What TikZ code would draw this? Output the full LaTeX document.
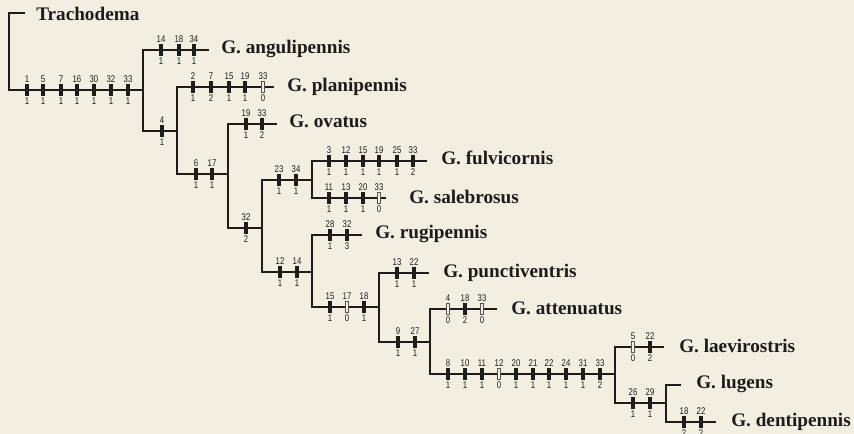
\documentclass[tikz,border=0pt]{standalone}
\usepackage{fontspec}
\setmainfont{Liberation Serif}
\newfontfamily\numfont[FakeStretch=0.8]{Liberation Sans}
\definecolor{bg}{RGB}{242,239,225}
\definecolor{ink}{RGB}{28,28,28}
\tikzset{
  br/.style={draw=ink, line width=1.1pt},
  fbar/.style={rectangle, fill=ink, inner sep=0pt, minimum width=2.3pt, minimum height=9pt},
  obar/.style={rectangle, draw=ink!75, fill=bg, line width=0.45pt, inner sep=0pt, minimum width=2.6pt, minimum height=8.6pt},
  num/.style={inner sep=0pt, text=ink, font=\numfont\fontsize{7.3}{7.3}\selectfont},
  taxon/.style={anchor=base west, inner sep=0pt, text=ink, font=\fontsize{14.4}{14.4}\selectfont\bfseries},
}
\newcommand\chF[4]{\node[fbar] at (#1,#2) {}; \node[num] at (#1,{#2-11}) {#3}; \node[num] at (#1,{#2+11}) {#4};}
\newcommand\chO[4]{\node[obar] at (#1,#2) {}; \node[num] at (#1,{#2-11}) {#3}; \node[num] at (#1,{#2+11}) {#4};}
\begin{document}
\begin{tikzpicture}[x=0.75pt,y=-0.75pt]
\fill[bg] (0,0) rectangle (854,434);
\useasboundingbox (0,0) rectangle (854,434);
% coordinates
\coordinate (tTra) at (25,13);
\coordinate (root) at (9,90);
\coordinate (n1) at (143,90);
\coordinate (lAng) at (209,50);
\coordinate (n2) at (177,131);
\coordinate (lPla) at (274,87);
\coordinate (n3) at (228,174);
\coordinate (lOva) at (277,124);
\coordinate (n4) at (262,228);
\coordinate (n5) at (312,180);
\coordinate (lFul) at (427,161);
\coordinate (lSal) at (386,198);
\coordinate (n6) at (312,272);
\coordinate (lRug) at (362,235);
\coordinate (n7) at (379,307);
\coordinate (lPun) at (429,273);
\coordinate (n8) at (430,342);
\coordinate (lAtt) at (497,309);
\coordinate (n9) at (615,374);
\coordinate (lLae) at (664,347);
\coordinate (n10) at (666,403);
\coordinate (lLug) at (681,385);
\coordinate (lDen) at (716,422);
% branches
\draw[br] (tTra) -| (root) -- (n1);
\draw[br] (lAng) -| (n1) |- (n2);
\draw[br] (lPla) -| (n2) |- (n3);
\draw[br] (lOva) -| (n3) |- (n4);
\draw[br] (n5) -| (n4) |- (n6);
\draw[br] (lFul) -| (n5) |- (lSal);
\draw[br] (lRug) -| (n6) |- (n7);
\draw[br] (lPun) -| (n7) |- (n8);
\draw[br] (lAtt) -| (n8) |- (n9);
\draw[br] (lLae) -| (n9) |- (n10);
\draw[br] (lLug) -| (n10) |- (lDen);
% taxa
\node[taxon] (tra) at (36,21) {Trachodema};
\node[taxon] (ang) at (221,54) {G. angulipennis};
\node[taxon] (pla) at (287,92) {G. planipennis};
\node[taxon] (ova) at (289,128) {G. ovatus};
\node[taxon] (ful) at (441,165) {G. fulvicornis};
\node[taxon] (sal) at (409,204) {G. salebrosus};
\node[taxon] (rug) at (375,239) {G. rugipennis};
\node[taxon] (pun) at (443,278) {G. punctiventris};
\node[taxon] (att) at (511,315) {G. attenuatus};
\node[taxon] (lae) at (679,353) {G. laevirostris};
\node[taxon] (lug) at (696,389) {G. lugens};
\node[taxon] (den) at (731,427) {G. dentipennis};
% characters
\chF{27}{90}{1}{1}\chF{43}{90}{5}{1}\chF{61}{90}{7}{1}\chF{77}{90}{16}{1}
\chF{94}{90}{30}{1}\chF{111}{90}{32}{1}\chF{128}{90}{33}{1}
\chF{161}{50}{14}{1}\chF{179}{50}{18}{1}\chF{194}{50}{34}{1}
\chF{162}{131}{4}{1}
\chF{193}{87}{2}{1}\chF{211}{87}{7}{2}\chF{229}{87}{15}{1}\chF{245}{87}{19}{1}\chO{263}{87}{33}{0}
\chF{196}{174}{6}{1}\chF{212}{174}{17}{1}
\chF{246}{124}{19}{1}\chF{262}{124}{33}{2}
\chF{246}{228}{32}{2}
\chF{279}{180}{23}{1}\chF{296}{180}{34}{1}
\chF{329}{161}{3}{1}\chF{346}{161}{12}{1}\chF{363}{161}{15}{1}\chF{379}{161}{19}{1}\chF{397}{161}{25}{1}\chF{413}{161}{33}{2}
\chF{329}{198}{11}{1}\chF{346}{198}{13}{1}\chF{363}{198}{20}{1}\chO{379}{198}{33}{0}
\chF{280}{272}{12}{1}\chF{297}{272}{14}{1}
\chF{330}{235}{28}{1}\chF{347}{235}{32}{3}
\chF{330}{307}{15}{1}\chO{347}{307}{17}{0}\chF{364}{307}{18}{1}
\chF{397}{273}{13}{1}\chF{414}{273}{22}{1}
\chF{398}{342}{9}{1}\chF{415}{342}{27}{1}
\chO{448}{309}{4}{0}\chF{465}{309}{18}{2}\chO{482}{309}{33}{0}
\chF{448}{374}{8}{1}\chF{465}{374}{10}{1}\chF{482}{374}{11}{1}\chO{499}{374}{12}{0}\chF{516}{374}{20}{1}
\chF{533}{374}{21}{1}\chF{549}{374}{22}{1}\chF{566}{374}{24}{1}\chF{583}{374}{31}{1}\chF{600}{374}{33}{2}
\chO{633}{347}{5}{0}\chF{650}{347}{22}{2}
\chF{633}{403}{26}{1}\chF{650}{403}{29}{1}
\chF{684}{422}{18}{2}\chF{701}{422}{22}{2}
\end{tikzpicture}
\end{document}
